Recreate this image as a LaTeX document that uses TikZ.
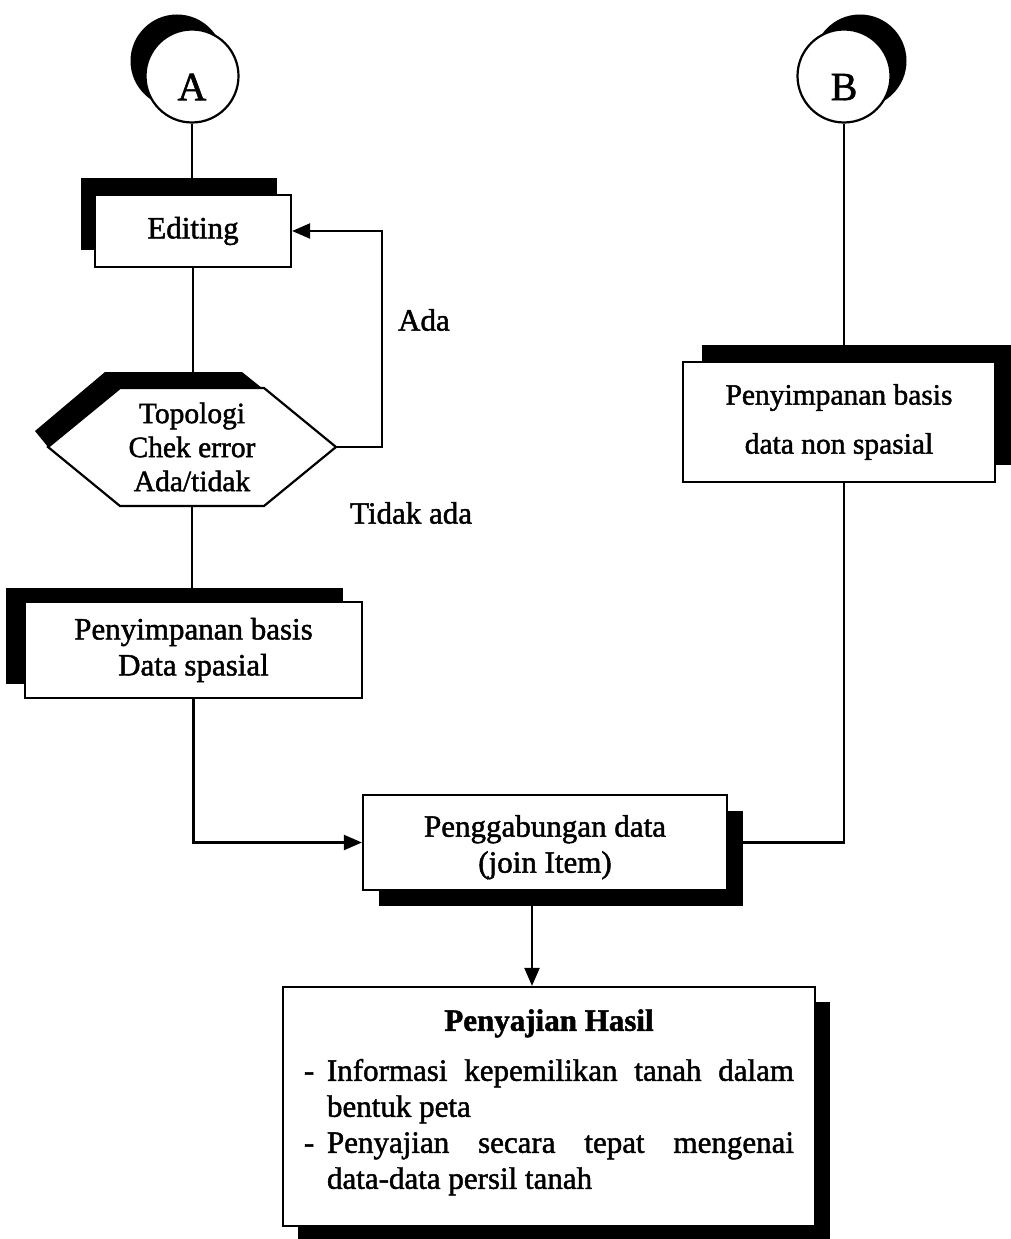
\documentclass[tikz,border=0pt]{standalone}
\usepackage{fontspec}
\setmainfont[FakeBold=1.5]{Liberation Serif}
\usetikzlibrary{arrows.meta,shadows,calc}

\begin{document}
\begin{tikzpicture}[x=1pt,y=-1pt,
  line width=2.2pt,
  arr/.style={-{Triangle[length=18pt,width=15pt]}},
  sh/.style 2 args={drop shadow={shadow xshift=#1pt,shadow yshift=#2pt,fill=black,opacity=1}},
  box/.style={draw,fill=white,line width=2.2pt,inner sep=0pt,align=center,
    font=\fontsize{31}{36}\selectfont},
  circ/.style={circle,draw,fill=white,line width=2.2pt,minimum size=93pt,inner sep=0pt,
    font=\fontsize{40}{44}\selectfont},
  hexnode/.style={inner sep=0pt,minimum width=288pt,minimum height=118pt,align=center,
    font=\fontsize{29.5}{34}\selectfont},
  lbl/.style={inner sep=0pt,font=\fontsize{31}{36}\selectfont},
]
\useasboundingbox (0,0) rectangle (1011,1239);

% start points
\node[circ,sh={-15}{15}] (A) at (192,76) {\raisebox{-11pt}[\height][0pt]{A}};
\node[circ,sh={16}{15}] (B) at (844,76) {\raisebox{-11pt}[\height][0pt]{B}};

% decision hexagon with the part of its shadow that shows
\fill (35,431) -- (105,372) -- (242,372) -- (262,388) -- (120,388) -- (48,447) -- cycle;
\filldraw[fill=white,line width=2.2pt] (48,447) -- (120,388) -- (264,388) -- (336,447) -- (264,506) -- (120,506) -- cycle;
\node[hexnode] (hex) at (192,447) {Topologi\\Chek error\\Ada/tidak};

% process boxes
\node[box,minimum width=196pt,minimum height=72pt,sh={-14}{17}] (edit) at (193,231) {Editing};
\node[box,minimum width=337pt,minimum height=96pt,sh={-19}{14}] (left) at (193.5,650)
  {Penyimpanan basis\\Data spasial};
\node[box,minimum width=312pt,minimum height=120pt,sh={19}{17},
  font=\fontsize{29.5}{49}\selectfont] (right) at (839,422)
  {Penyimpanan basis\\data non spasial};
\node[box,minimum width=364pt,minimum height=95pt,sh={16}{-16}] (join) at (545,842.5)
  {\rule{0pt}{31pt}Penggabungan data\\(join Item)};
\node[box,minimum width=532pt,minimum height=239pt,sh={15}{-15},align=left] (res) at (549,1106.5)
  {\makebox[490pt][c]{\bfseries Penyajian Hasil}\\[14pt]
   \makebox[23pt][l]{-}\makebox[467pt][s]{Informasi kepemilikan tanah dalam}\\
   \hspace*{23pt}bentuk peta\\
   \makebox[23pt][l]{-}\makebox[467pt][s]{Penyajian secara tepat mengenai}\\
   \hspace*{23pt}data-data persil tanah\rule[-15pt]{0pt}{0pt}};

% branch labels
\node[lbl,anchor=west] (ada) at (397,320) {Ada};
\node[lbl,anchor=west] (tidak) at (349,513) {Tidak ada};

% connectors
\draw (A.south) -- (A.south |- edit.north);
\draw (edit.south) -- (edit.south |- hex.north);
\draw (hex.south) -- (hex.south |- left.north);
\draw[arr] (hex.east) -- ++(45,0) |- (edit.east);
\draw[arr] (left.south) |- (join.west);
\draw (B.south) -- (B.south |- right.north);
\draw (B.south |- right.south) |- (join.east);
\coordinate (jd) at ($(join.south)+(-13,0)$);
\draw[arr] (jd) -- (jd |- res.north);
\end{tikzpicture}
\end{document}
